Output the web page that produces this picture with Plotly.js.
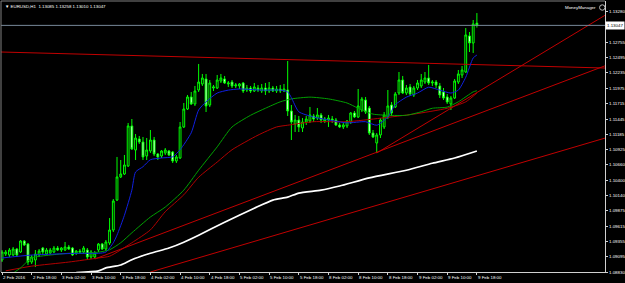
<!DOCTYPE html>
<html><head><meta charset="utf-8">
<script src="https://cdn.plot.ly/plotly-3.0.1.min.js"></script>
<style>html,body{margin:0;padding:0;background:#000;}#chart{width:625px;height:283px;}</style>
</head><body><div id="chart"></div>
<script>
// ---- candle data (EURUSD H1) ----
const openP = [1.09035,1.09138,1.09121,1.09121,1.09223,1.09172,1.0936,1.09309,1.09001,1.09035,
1.09121,1.0924,1.09138,1.09155,1.09172,1.0924,1.09206,1.09206,1.09258,1.0924,
1.09155,1.09189,1.09172,1.09206,1.09087,1.09087,1.09206,1.09309,1.09223,1.09326,
1.09548,1.10061,1.10455,1.10506,1.10643,1.11327,1.10916,1.11104,1.11053,1.10814,
1.10899,1.11087,1.10848,1.10814,1.10865,1.10899,1.10882,1.10728,1.10779,1.1131,
1.11617,1.11823,1.11703,1.11942,1.12045,1.1213,1.11686,1.11976,1.11976,1.12096,
1.1213,1.12045,1.12079,1.12011,1.12011,1.12062,1.11942,1.11976,1.11925,1.11976,
1.11925,1.11976,1.11925,1.11976,1.11925,1.11959,1.11925,1.11942,1.11583,1.11361,
1.11429,1.11292,1.11395,1.11412,1.11498,1.11463,1.11515,1.11412,1.11429,1.11446,
1.11429,1.11344,1.1131,1.11327,1.11395,1.11549,1.11481,1.116,1.11771,1.11634,
1.11207,1.11036,1.11173,1.1131,1.11481,1.11686,1.11652,1.11891,1.12113,1.11891,
1.11994,1.11857,1.11976,1.12011,1.12079,1.12147,1.12062,1.12079,1.12011,1.11908,
1.11823,1.11703,1.11805,1.12079,1.12199,1.1225,1.12866,1.12746,1.13085];
const highP = [1.09206,1.09206,1.0924,1.09258,1.0924,1.09377,1.09377,1.09326,1.09121,1.09206,
1.09223,1.09258,1.0924,1.0924,1.09275,1.09275,1.09258,1.09343,1.09292,1.09258,
1.09206,1.09223,1.09275,1.0924,1.09206,1.09189,1.09326,1.09326,1.09377,1.09753,
1.10078,1.10797,1.10745,1.10831,1.11378,1.11446,1.1119,1.11156,1.11139,1.11121,
1.11258,1.11139,1.10865,1.10916,1.1095,1.10916,1.10899,1.10831,1.11395,1.1172,
1.11857,1.11908,1.12011,1.12387,1.12216,1.12216,1.12113,1.12028,1.12199,1.12216,
1.12182,1.12096,1.12113,1.12062,1.12062,1.12079,1.12028,1.12011,1.12062,1.12028,
1.12045,1.12062,1.12079,1.12011,1.12011,1.12028,1.12045,1.12438,1.11686,1.11515,
1.11498,1.11463,1.11498,1.11652,1.11532,1.11634,1.11549,1.11481,1.11515,1.11498,
1.11463,1.11378,1.11378,1.11429,1.11566,1.11583,1.11959,1.11823,1.11823,1.11669,
1.11258,1.11207,1.11463,1.11566,1.11942,1.11737,1.11908,1.1225,1.12182,1.12028,
1.12045,1.12011,1.12113,1.12216,1.1225,1.1237,1.12113,1.12113,1.12062,1.11976,
1.11874,1.1184,1.1213,1.12284,1.12353,1.13002,1.12934,1.13139,1.13258];
const lowP = [1.09001,1.09104,1.09087,1.09104,1.09087,1.09155,1.09275,1.0895,1.08967,1.08916,
1.09087,1.09138,1.09121,1.09138,1.09155,1.09189,1.09172,1.09189,1.09206,1.09104,
1.09121,1.09155,1.09155,1.09052,1.09052,1.09052,1.09172,1.09206,1.09189,1.09292,
1.09514,1.10044,1.10437,1.10489,1.10626,1.10916,1.10745,1.11019,1.10745,1.10745,
1.10865,1.10814,1.10745,1.10779,1.10831,1.10814,1.10694,1.10694,1.10762,1.11292,
1.116,1.11686,1.11669,1.11908,1.12011,1.11566,1.11652,1.11925,1.11959,1.12062,
1.12045,1.11994,1.11976,1.11976,1.11959,1.11891,1.11908,1.11891,1.11908,1.11908,
1.11891,1.11857,1.11891,1.11908,1.11891,1.11891,1.11908,1.11498,1.11087,1.11224,
1.11224,1.11224,1.11344,1.11378,1.11395,1.11429,1.11378,1.11378,1.1131,1.11378,
1.11327,1.11292,1.11275,1.11292,1.11361,1.11463,1.11463,1.11566,1.11532,1.11173,
1.11121,1.10865,1.11121,1.11275,1.11446,1.11498,1.11634,1.11857,1.11874,1.11857,
1.1184,1.11823,1.11942,1.11976,1.12045,1.12028,1.12011,1.11976,1.11805,1.11771,
1.11703,1.116,1.11788,1.12045,1.12147,1.12233,1.12592,1.12575,1.1301];
const closeP = [1.09172,1.09172,1.09206,1.09223,1.09121,1.0936,1.09292,1.09001,1.09087,1.09138,
1.09189,1.09172,1.09206,1.09206,1.0924,1.09206,1.0924,1.09258,1.09223,1.09121,
1.09189,1.09172,1.0924,1.09087,1.09172,1.09155,1.09309,1.09223,1.09343,1.09548,
1.10044,1.10455,1.10506,1.1066,1.11327,1.10933,1.11121,1.11053,1.10797,1.10916,
1.11087,1.10848,1.10797,1.10899,1.10916,1.10831,1.10728,1.10797,1.1131,1.11617,
1.11823,1.11703,1.11925,1.12079,1.12147,1.11669,1.12062,1.11994,1.12113,1.12147,
1.12062,1.12062,1.12011,1.12028,1.12045,1.11925,1.11976,1.11925,1.11994,1.11942,
1.11976,1.11925,1.11976,1.11925,1.11959,1.11925,1.11959,1.11583,1.11395,1.11429,
1.1131,1.11395,1.11446,1.11515,1.11446,1.11515,1.11429,1.11446,1.11463,1.11429,
1.11344,1.1131,1.11344,1.11412,1.11549,1.11481,1.11669,1.11788,1.11566,1.11207,
1.11139,1.11173,1.11429,1.11515,1.11669,1.11549,1.11874,1.12113,1.11891,1.11976,
1.11874,1.11976,1.12062,1.12113,1.12147,1.12062,1.12079,1.12028,1.11857,1.11805,
1.11737,1.11805,1.12096,1.12216,1.12284,1.12883,1.12746,1.13071,1.13047];

// ---- moving averages (bar index, price) ----
const maBlueIdx   = [0,8,21,26,28,30,31,33,35,36,38,40,43,46,48,51,53,55,58,61,64,70,75,77,78,80,84,88,93,98,101,104,106,109,112,115,118,121,123,125,127,128];
const maBluePrice = [1.0907,1.0912,1.0915,1.0915,1.0917,1.0933,1.0946,1.0980,1.1023,1.1054,1.1063,1.1075,1.1078,1.1080,1.1092,1.1121,1.1160,1.1174,1.1189,1.1194,1.1196,1.1194,1.1194,1.1191,1.1181,1.1157,1.1148,1.1143,1.1138,1.1140,1.1134,1.1148,1.1169,1.1182,1.1189,1.1199,1.1194,1.1189,1.1194,1.1216,1.1249,1.1254];
const maGreenIdx   = [3,5,8,13,18,22,26,29,32,35,40,44,49,53,58,62,67,71,75,78,83,88,93,96,100,104,109,113,116,120,123,127,128];
const maGreenPrice = [1.0881,1.0890,1.0907,1.0912,1.0915,1.0915,1.0917,1.0921,1.0933,1.0950,1.0977,1.0994,1.1023,1.1057,1.1097,1.1131,1.1151,1.1163,1.1174,1.1179,1.1182,1.1179,1.1172,1.1163,1.1153,1.1151,1.1151,1.1157,1.1163,1.1165,1.1174,1.1191,1.1193];
const maRedIdx   = [1,8,18,26,29,35,40,44,49,53,58,62,69,74,77,84,93,102,111,120,125,128];
const maRedPrice = [1.0885,1.0893,1.0900,1.0907,1.0910,1.0933,1.0955,1.0986,1.1015,1.1045,1.1071,1.1092,1.1117,1.1131,1.1134,1.1140,1.1140,1.1146,1.1153,1.1163,1.1174,1.1189];
const maWhiteIdx   = [20,26,28,32,35,40,45,49,53,60,68,73,77,80,86,91,99,109,116,122,128];
const maWhitePrice = [1.0882,1.0885,1.0890,1.0895,1.0904,1.0915,1.0924,1.0934,1.0946,1.0968,1.0992,1.1006,1.1011,1.1018,1.1023,1.1030,1.1044,1.1057,1.1069,1.1078,1.1090];

// ---- trend lines (start bar, start price, end bar, end price) ----
const trendStartIdx   = [-0.27, 25, 101, 40];
const trendStartPrice = [1.12592, 1.09052, 1.10865, 1.0883];
const trendEndIdx     = [162.53, 162.53, 162.53, 162.53];
const trendEndPrice   = [1.12318, 1.12356, 1.13220, 1.11120];

// ---- axis labels ----
const xTickIdx = [0,8,16,24,32,40,48,56,64,72,80,88,96,104,112,120,128];
const xTickText = ["2 Feb 2016","2 Feb 18:00","3 Feb 02:00","3 Feb 10:00","3 Feb 18:00","4 Feb 02:00","4 Feb 10:00","4 Feb 18:00","5 Feb 02:00","5 Feb 10:00","5 Feb 18:00","8 Feb 02:00","8 Feb 10:00","8 Feb 18:00","9 Feb 02:00","9 Feb 10:00","9 Feb 18:00"];
const yTickVals = [1.13280,1.12755,1.12495,1.12235,1.11975,1.11715,1.11445,1.11185,1.10925,1.10660,1.10400,1.10140,1.09875,1.09615,1.09355,1.09095,1.08830];
const symbolName = "EURUSD,H1";

const FONT = "Liberation Sans";
const FS = 4.4;
const n = openP.length;
const idx = Array.from({length:n},(_, i)=>i);
const last = n-1;

const traces = [];
const maStyle = [
  [maRedIdx, maRedPrice, '#B00000', 1],
  [maGreenIdx, maGreenPrice, '#00A000', 1],
  [maWhiteIdx, maWhitePrice, '#FFFFFF', 1.7],
  [maBlueIdx, maBluePrice, '#1020E0', 1]
];
for (let k=0;k<trendStartIdx.length;k++){
  traces.push({type:'scatter',mode:'lines',x:[trendStartIdx[k],trendEndIdx[k]],y:[trendStartPrice[k],trendEndPrice[k]],
    line:{color:'#C00000',width:1},hoverinfo:'skip',showlegend:false});
}
maStyle.forEach(m=>traces.push({type:'scatter',mode:'lines',x:m[0],y:m[1],line:{color:m[2],width:m[3],shape:'spline',smoothing:0.6},hoverinfo:'skip',showlegend:false}));
traces.push({type:'candlestick',x:idx,open:openP,high:highP,low:lowP,close:closeP,
  increasing:{line:{color:'#00FF00',width:1},fillcolor:'#000000'},
  decreasing:{line:{color:'#00FF00',width:1},fillcolor:'#FFFFFF'},
  whiskerwidth:0,hoverinfo:'skip',showlegend:false});

const fmt = v=>v.toFixed(5);
const txt = c=>({family:FONT,size:FS,color:c});
const annotations = xTickIdx.map((v,k)=>({x:v,xref:'x',y:0,yref:'paper',yanchor:'top',xanchor:'left',xshift:-1,yshift:-1,
  text:xTickText[k],showarrow:false,font:txt('#FFFFFF')}));
yTickVals.forEach(v=>annotations.push({x:1,xref:'paper',y:v,yref:'y',xanchor:'left',yanchor:'middle',xshift:2,
  text:fmt(v),showarrow:false,font:txt('#FFFFFF')}));
annotations.push({x:0,xref:'paper',y:1,yref:'paper',xanchor:'left',yanchor:'top',xshift:2,yshift:-1,showarrow:false,
  text:'▼ '+symbolName+'  '+[openP[last],highP[last],lowP[last],closeP[last]].map(fmt).join(' '),font:txt('#FFFFFF')});
annotations.push({x:1,xref:'paper',y:1,yref:'paper',xanchor:'right',yanchor:'top',xshift:-7,yshift:-2,showarrow:false,
  text:'MoneyManager',font:txt('#FFFFFF')});
annotations.push({x:1,xref:'paper',y:closeP[last],yref:'y',xanchor:'left',yanchor:'middle',xshift:0,showarrow:false,
  text:fmt(closeP[last]),bgcolor:'#FFFFFF',borderpad:1,font:txt('#000000')});

const layout = {
  width:625,height:283,paper_bgcolor:'#000000',plot_bgcolor:'#000000',
  margin:{l:1,r:20,t:1,b:11,pad:0},showlegend:false,hovermode:false,
  xaxis:{range:[-0.27,162.53],showgrid:false,zeroline:false,showline:true,linecolor:'#D0D0D0',linewidth:1,
    tickvals:xTickIdx,showticklabels:false,ticks:'outside',ticklen:2,tickcolor:'#D0D0D0',
    rangeslider:{visible:false},fixedrange:true,automargin:false},
  yaxis:{side:'right',range:[1.0883,1.13464],showgrid:false,zeroline:false,showline:true,linecolor:'#D0D0D0',linewidth:1,
    tickvals:yTickVals,showticklabels:false,ticks:'outside',ticklen:2,tickcolor:'#D0D0D0',
    fixedrange:true,automargin:false},
  shapes:[
    {type:'line',xref:'paper',yref:'y',x0:0,x1:1,y0:closeP[last],y1:closeP[last],line:{color:'#778899',width:1}},
    {type:'line',xref:'paper',yref:'paper',x0:0,x1:0,y0:0,y1:1,line:{color:'#808080',width:1}},
    {type:'line',xref:'paper',yref:'paper',x0:0,x1:1,y0:1,y1:1,line:{color:'#808080',width:1}},
    {type:'circle',xref:'paper',yref:'paper',x0:0.991,x1:1.0,y0:0.966,y1:0.986,line:{color:'#C0C0C0',width:1}}
  ],
  annotations:annotations
};
Plotly.newPlot('chart',traces,layout,{staticPlot:true,displayModeBar:false});
</script></body></html>
